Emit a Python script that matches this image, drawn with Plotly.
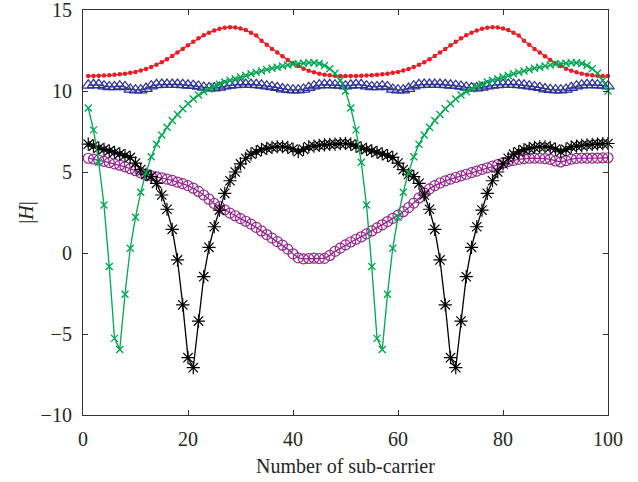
import plotly.graph_objects as go

# Sub-carrier index
subcarrier = list(range(1, 101))

# Channel magnitude |H| per sub-carrier, one list per channel realisation
h_red = [
    10.93, 10.93, 10.94, 10.95, 10.97, 11.00, 11.03, 11.07, 11.12, 11.18,
    11.26, 11.36, 11.48, 11.62, 11.78, 11.96, 12.16, 12.37, 12.60, 12.82,
    13.04, 13.25, 13.44, 13.60, 13.74, 13.84, 13.91, 13.94, 13.92, 13.86,
    13.76, 13.60, 13.42, 13.10, 12.85, 12.60, 12.38, 12.15, 11.92, 11.72,
    11.54, 11.38, 11.25, 11.15, 11.07, 11.01, 10.97, 10.94, 10.93, 10.92,
    10.93, 10.93, 10.94, 10.95, 10.97, 11.00, 11.03, 11.07, 11.12, 11.18,
    11.26, 11.36, 11.48, 11.62, 11.78, 11.96, 12.16, 12.37, 12.60, 12.82,
    13.04, 13.25, 13.44, 13.60, 13.74, 13.84, 13.91, 13.94, 13.92, 13.86,
    13.76, 13.60, 13.42, 13.10, 12.85, 12.60, 12.38, 12.15, 11.92, 11.72,
    11.54, 11.38, 11.25, 11.15, 11.07, 11.01, 10.97, 10.94, 10.93, 10.92,
]

h_blue = [
    10.35, 10.38, 10.38, 10.30, 10.25, 10.25, 10.30, 10.25, 10.10, 10.05,
    10.05, 10.15, 10.30, 10.38, 10.40, 10.40, 10.40, 10.40, 10.38, 10.35,
    10.33, 10.28, 10.22, 10.18, 10.18, 10.22, 10.30, 10.35, 10.38, 10.40,
    10.40, 10.40, 10.38, 10.35, 10.30, 10.25, 10.20, 10.12, 10.08, 10.05,
    10.05, 10.10, 10.20, 10.30, 10.36, 10.38, 10.38, 10.36, 10.34, 10.30,
    10.35, 10.38, 10.38, 10.30, 10.25, 10.25, 10.30, 10.25, 10.10, 10.05,
    10.05, 10.15, 10.30, 10.38, 10.40, 10.40, 10.40, 10.40, 10.38, 10.35,
    10.33, 10.28, 10.22, 10.18, 10.18, 10.22, 10.30, 10.35, 10.38, 10.40,
    10.40, 10.40, 10.38, 10.35, 10.30, 10.25, 10.20, 10.12, 10.08, 10.05,
    10.05, 10.10, 10.20, 10.30, 10.36, 10.38, 10.38, 10.36, 10.34, 10.30,
]

h_green = [
    8.95, 7.60, 5.60, 2.96, -0.84, -5.27, -5.95, -2.55, 0.30, 2.20,
    3.75, 4.96, 5.94, 6.72, 7.28, 7.76, 8.18, 8.55, 8.90, 9.22,
    9.50, 9.75, 9.95, 10.12, 10.28, 10.42, 10.55, 10.66, 10.76, 10.86,
    10.96, 11.06, 11.15, 11.24, 11.32, 11.40, 11.47, 11.54, 11.60, 11.65,
    11.69, 11.72, 11.74, 11.75, 11.70, 11.58, 11.38, 11.10, 10.65, 10.00,
    8.95, 7.60, 5.60, 2.96, -0.84, -5.27, -5.95, -2.55, 0.30, 2.20,
    3.75, 4.96, 5.94, 6.72, 7.28, 7.76, 8.18, 8.55, 8.90, 9.22,
    9.50, 9.75, 9.95, 10.12, 10.28, 10.42, 10.55, 10.66, 10.76, 10.86,
    10.96, 11.06, 11.15, 11.24, 11.32, 11.40, 11.47, 11.54, 11.60, 11.65,
    11.69, 11.72, 11.74, 11.75, 11.70, 11.58, 11.38, 11.10, 10.65, 10.00,
]

h_black = [
    6.72, 6.60, 6.48, 6.40, 6.30, 6.22, 6.12, 6.02, 5.90, 5.55,
    5.15, 4.85, 4.72, 4.30, 3.58, 2.70, 1.46, -0.43, -3.20, -6.46,
    -7.08, -4.20, -1.46, 0.35, 1.62, 2.65, 3.68, 4.46, 5.00, 5.50,
    5.85, 6.10, 6.25, 6.38, 6.46, 6.52, 6.56, 6.56, 6.52, 6.42,
    6.25, 6.40, 6.56, 6.60, 6.64, 6.67, 6.70, 6.72, 6.75, 6.76,
    6.72, 6.60, 6.48, 6.40, 6.30, 6.22, 6.12, 6.02, 5.90, 5.55,
    5.15, 4.85, 4.72, 4.30, 3.58, 2.70, 1.46, -0.43, -3.20, -6.46,
    -7.08, -4.20, -1.46, 0.35, 1.62, 2.65, 3.68, 4.46, 5.00, 5.50,
    5.85, 6.10, 6.25, 6.38, 6.46, 6.52, 6.56, 6.56, 6.52, 6.42,
    6.25, 6.40, 6.56, 6.60, 6.64, 6.67, 6.70, 6.72, 6.75, 6.76,
]

h_purple = [
    5.85, 5.80, 5.74, 5.66, 5.58, 5.50, 5.42, 5.32, 5.20, 5.08,
    4.95, 4.82, 4.76, 4.70, 4.64, 4.56, 4.48, 4.38, 4.28, 4.16,
    4.00, 3.80, 3.58, 3.32, 3.06, 2.86, 2.66, 2.46, 2.30, 2.12,
    1.96, 1.78, 1.58, 1.36, 1.14, 0.92, 0.70, 0.48, 0.24, -0.05,
    -0.30, -0.36, -0.34, -0.32, -0.34, -0.33, -0.15, 0.10, 0.30, 0.50,
    0.68, 0.85, 1.00, 1.18, 1.36, 1.55, 1.74, 1.94, 2.14, 2.34,
    2.55, 2.80, 3.08, 3.40, 3.70, 3.96, 4.16, 4.32, 4.45, 4.56,
    4.66, 4.76, 4.86, 4.96, 5.06, 5.16, 5.26, 5.36, 5.46, 5.56,
    5.65, 5.72, 5.78, 5.83, 5.85, 5.86, 5.85, 5.83, 5.78, 5.68,
    5.62, 5.70, 5.80, 5.84, 5.86, 5.86, 5.86, 5.86, 5.87, 5.88,
]

x_ticks = [0, 20, 40, 60, 80, 100]
y_ticks = [-10, -5, 0, 5, 10, 15]
y_tick_text = ["\u221210", "\u22125", "0", "5", "10", "15"]

FONT = "Liberation Serif, Times New Roman, serif"
TEXT_COLOUR = "#262626"

series = [
    # (values, colour, symbol, size, marker line width)
    (h_purple, "#93278f", "circle-open", 10, 1.2),
    (h_black, "#000000", "asterisk-open", 11, 1.2),
    (h_red, "#ed1c24", "circle", 4.5, 0),
    (h_blue, "#2e3192", "triangle-up-open", 11, 1.2),
    (h_green, "#00a651", "x-thin-open", 7, 1.4),
]

fig = go.Figure()
for values, colour, symbol, size, mlw in series:
    marker = dict(symbol=symbol, size=size, color=colour)
    if mlw:
        marker["line"] = dict(color=colour, width=mlw)
    fig.add_trace(go.Scatter(
        x=subcarrier, y=values, mode="lines+markers",
        line=dict(color=colour, width=1.3),
        marker=marker, showlegend=False, cliponaxis=False,
    ))

axis_common = dict(
    showgrid=False, zeroline=False, showline=True, linecolor="#333333",
    linewidth=1.2, mirror="ticks", ticks="inside", ticklen=5,
    tickcolor="#333333", ticklabelstandoff=6, ticklabeloverflow="allow",
    automargin=False,
    tickfont=dict(family=FONT, size=20, color=TEXT_COLOUR),
)

fig.update_layout(
    width=638, height=482,
    margin=dict(l=83, r=30, t=10, b=67),
    paper_bgcolor="white", plot_bgcolor="white",
    xaxis=dict(range=[0, 100], tickvals=x_ticks,
               title=dict(text="Number of sub-carrier",
                          font=dict(family=FONT, size=20, color=TEXT_COLOUR),
                          standoff=9),
               **axis_common),
    yaxis=dict(range=[-10, 15], tickvals=y_ticks, ticktext=y_tick_text,
               title=dict(text="|<i>H</i>|",
                          font=dict(family=FONT, size=20, color=TEXT_COLOUR),
                          standoff=1),
               **axis_common),
)

fig.write_html("out.html")
